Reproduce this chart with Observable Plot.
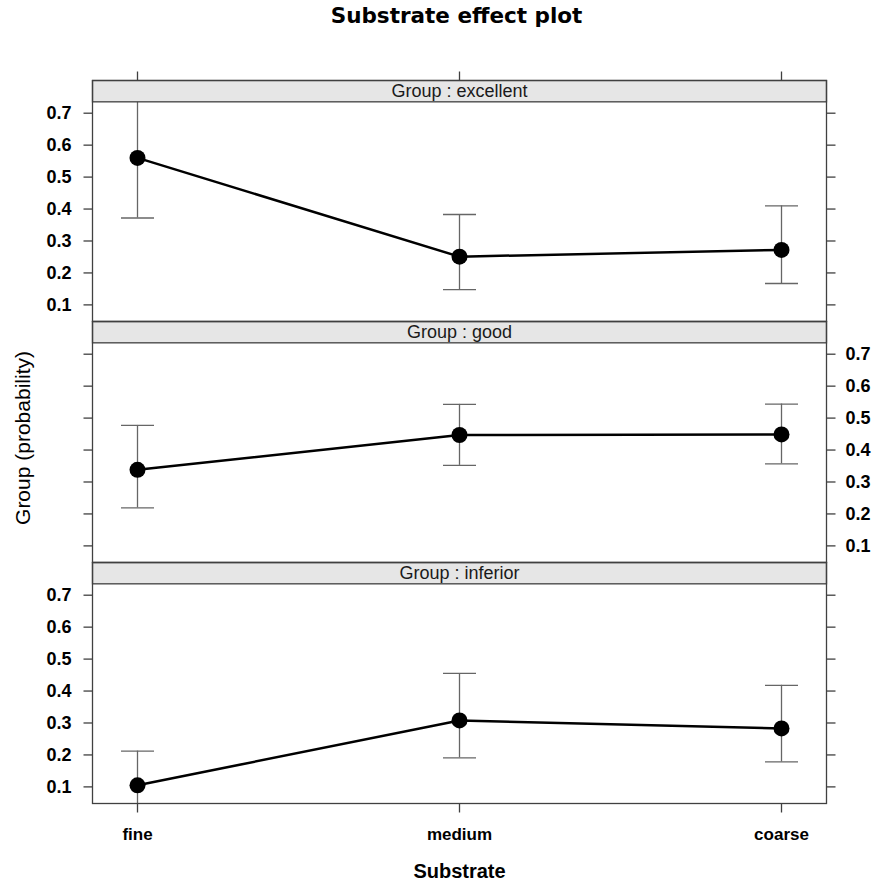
<!DOCTYPE html>
<html>
<head>
<meta charset="utf-8">
<script src="https://cdn.jsdelivr.net/npm/d3@7"></script>
<script src="https://cdn.jsdelivr.net/npm/@observablehq/plot@0.6"></script>
<style>
  html, body { margin: 0; padding: 0; background: #fff; }
  body { width: 874px; height: 883px; overflow: hidden; font-family: "Liberation Sans", Arial, sans-serif; }
  #title { box-sizing: border-box; width: 874px; height: 40px; line-height: 32px; padding-left: 39px;
           text-align: center; font-family: "DejaVu Sans", sans-serif; font-weight: bold; font-size: 21.5px; color: #000; }
  #chart svg { display: block; }
</style>
</head>
<body>
<div id="title">Substrate effect plot</div>
<div id="chart"></div>
<script>
// ---- data ----
const groups = ["excellent", "good", "inferior"];
const substrates = ["fine", "medium", "coarse"];

const fitExcellent   = [0.560, 0.251, 0.272];
const lowerExcellent = [0.372, 0.148, 0.167];
const upperExcellent = [0.745, 0.383, 0.410];

const fitGood   = [0.338, 0.447, 0.449];
const lowerGood = [0.219, 0.352, 0.357];
const upperGood = [0.477, 0.543, 0.544];

const fitInferior   = [0.105, 0.308, 0.283];
const lowerInferior = [0.040, 0.191, 0.178];
const upperInferior = [0.212, 0.455, 0.418];

const yTicks = [0.1, 0.2, 0.3, 0.4, 0.5, 0.6, 0.7];
const yTickLabels = ["0.1", "0.2", "0.3", "0.4", "0.5", "0.6", "0.7"];

const stripPrefix = "Group : ";
const yLabel = "Group (probability)";
const xLabel = "Substrate";

// panels that carry labels (lattice alternating axes)
const leftLabelGroups = ["excellent", "inferior"];
const rightLabelGroups = ["good"];
const topTickGroup = "excellent";
const bottomTickGroup = "inferior";

// ---- build tables ----
const fits = [fitExcellent, fitGood, fitInferior];
const lowers = [lowerExcellent, lowerGood, lowerInferior];
const uppers = [upperExcellent, upperGood, upperInferior];
const rows = [];
groups.forEach((g, gi) => substrates.forEach((s, si) => rows.push({
  Group: g, Substrate: s, fit: fits[gi][si], lower: lowers[gi][si], upper: uppers[gi][si]
})));

const yTickRows = groups.flatMap(g => yTicks.map((v, i) => ({Group: g, v, label: yTickLabels[i]})));
const leftLabelRows = yTickRows.filter(d => leftLabelGroups.includes(d.Group));
const rightLabelRows = yTickRows.filter(d => rightLabelGroups.includes(d.Group));
const topTickRows = substrates.map(s => ({Group: topTickGroup, Substrate: s}));
const bottomTickRows = substrates.map(s => ({Group: bottomTickGroup, Substrate: s}));

// ---- layout ----
const W = 874, H = 843;
const mTop = 39, mBottom = 79, mLeft = 92, mRight = 48;
const facetH = (H - mTop - mBottom) / groups.length;
const stripH = 22;
const tickLen = 9;
const frameColor = "#404040";

const sym = (x1, y1, x2, y2) => ({draw(ctx) { ctx.moveTo(x1, y1); ctx.lineTo(x2, y2); }});
const tickLeft = sym(-tickLen, 0, 0, 0);
const tickRight = sym(0, 0, tickLen, 0);
const tickUp = sym(0, -tickLen, 0, 0);
const tickDown = sym(0, 0, 0, tickLen);
const cap = sym(-16.5, 0, 16.5, 0);

const chart = Plot.plot({
  width: W, height: H,
  marginTop: mTop, marginBottom: mBottom, marginLeft: mLeft, marginRight: mRight,
  style: {fontFamily: "'Liberation Sans', Arial, sans-serif", background: "white", overflow: "visible", color: "black"},
  x: {type: "point", domain: substrates, padding: 0.1364, axis: null},
  y: {domain: [0.048, 0.7335], insetTop: stripH, axis: null},
  fy: {domain: groups, padding: 0, axis: null},
  marks: [
    // error bars
    Plot.ruleX(rows, {x: "Substrate", y1: "lower", y2: "upper", fy: "Group", stroke: "#666", strokeWidth: 1.3, clip: true}),
    Plot.dot(rows, {x: "Substrate", y: "lower", fy: "Group", symbol: cap, fill: "none", stroke: "#666", strokeWidth: 1.3, clip: true}),
    Plot.dot(rows, {x: "Substrate", y: "upper", fy: "Group", symbol: cap, fill: "none", stroke: "#666", strokeWidth: 1.3, clip: true}),
    // effect line + points
    Plot.line(rows, {x: "Substrate", y: "fit", fy: "Group", stroke: "black", strokeWidth: 2.5}),
    Plot.dot(rows, {x: "Substrate", y: "fit", fy: "Group", r: 8, fill: "black"}),
    // strips
    Plot.frame({fill: "#e6e6e6", stroke: frameColor, strokeWidth: 1.3, insetBottom: facetH - stripH}),
    Plot.text(groups, {fy: d => d, text: d => stripPrefix + d, frameAnchor: "top", lineAnchor: "middle", dy: stripH / 2, fontSize: 18, fill: "#1a1a1a"}),
    // panel frame
    Plot.frame({stroke: frameColor, strokeWidth: 1.3}),
    // y ticks left / right
    Plot.dot(yTickRows, {y: "v", fy: "Group", frameAnchor: "left", symbol: tickLeft, fill: "none", stroke: frameColor, strokeWidth: 1.3}),
    Plot.dot(yTickRows, {y: "v", fy: "Group", frameAnchor: "right", symbol: tickRight, fill: "none", stroke: frameColor, strokeWidth: 1.3}),
    Plot.text(leftLabelRows, {y: "v", fy: "Group", text: "label", frameAnchor: "left", textAnchor: "end", lineAnchor: "middle", dx: -21, fontSize: 18, fontWeight: "bold", fill: "black"}),
    Plot.text(rightLabelRows, {y: "v", fy: "Group", text: "label", frameAnchor: "right", textAnchor: "start", lineAnchor: "middle", dx: 19, fontSize: 18, fontWeight: "bold", fill: "black"}),
    // x ticks top / bottom
    Plot.dot(topTickRows, {x: "Substrate", fy: "Group", frameAnchor: "top", symbol: tickUp, fill: "none", stroke: frameColor, strokeWidth: 1.3}),
    Plot.dot(bottomTickRows, {x: "Substrate", fy: "Group", frameAnchor: "bottom", symbol: tickDown, fill: "none", stroke: frameColor, strokeWidth: 1.3}),
    Plot.text(bottomTickRows, {x: "Substrate", fy: "Group", text: "Substrate", frameAnchor: "bottom", lineAnchor: "middle", dy: 31, fontSize: 17, fontWeight: "bold", fill: "black"}),
    // axis titles
    Plot.text([yLabel], {text: d => d, facet: "super", frameAnchor: "left", textAnchor: "middle", lineAnchor: "middle", rotate: -90, dx: -69, dy: -4, fontSize: 21, fill: "black"}),
    Plot.text([xLabel], {text: d => d, facet: "super", frameAnchor: "bottom", textAnchor: "middle", lineAnchor: "middle", dy: 68, fontSize: 20, fontWeight: "bold", fill: "black"})
  ]
});
document.getElementById("chart").appendChild(chart);
</script>
</body>
</html>
